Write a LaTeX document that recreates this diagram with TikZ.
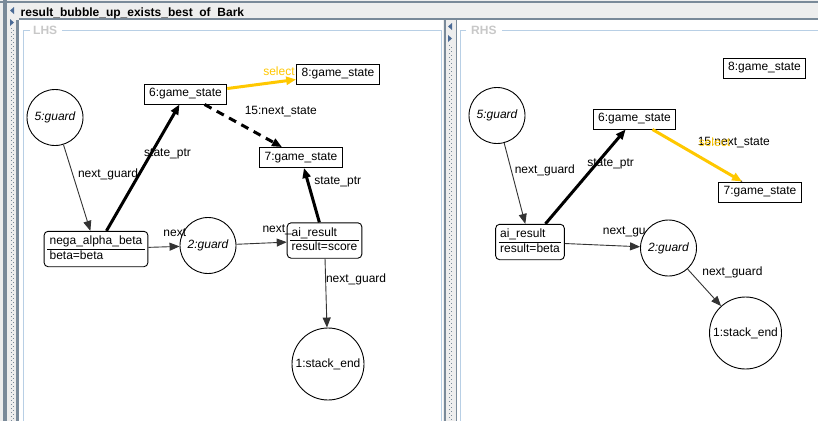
\documentclass[tikz,border=0pt]{standalone}
\usepackage{fontspec}
\setmainfont{Liberation Sans}
\usepackage{xcolor}
\usetikzlibrary{
    arrows.meta
}
\definecolor{swinggray}{HTML}{EEEEEE}
\definecolor{splitdark}{HTML}{7A8A99}
\definecolor{borderblue}{HTML}{B8CFE5}
\definecolor{titlegray}{HTML}{C8C8C8}
\definecolor{selectyellow}{HTML}{FFC800}
\definecolor{arrowblue}{HTML}{4A6A96}

\begin{document}
\begin{tikzpicture}[
    x=1pt, y=-1pt,
    font=\fontsize{12}{14}\selectfont,
    >={Triangle[length=10pt, width=8pt]},
    objbox/.style={draw, fill=white, line width=0.9pt, minimum height=20pt, inner xsep=5pt, inner ysep=0pt},
    attrbox/.style={draw, fill=white, rounded corners=4pt, line width=0.9pt, inner xsep=3pt, inner ysep=3.5pt},
    guardnode/.style={draw, fill=white, circle, minimum size=56pt, inner sep=0pt, line width=0.9pt, font=\fontsize{12}{14}\selectfont\itshape},
    endnode/.style={draw, fill=white, circle, minimum size=72pt, inner sep=0pt, line width=0.9pt},
    link/.style={->, draw=black!80, line width=0.9pt},
    ptr/.style={->, line width=3pt},
    sel/.style={->, draw=selectyellow, line width=3pt},
    lbl/.style={anchor=west, inner sep=0pt}
]
    \useasboundingbox (0, 0) rectangle (818, 421);
    \fill[swinggray] (0, 0) rectangle (818, 421);
    \fill[white] (19, 20) rectangle (443, 421);
    \fill[white] (457, 20) rectangle (818, 421);
    \fill[splitdark] (0, 0.5) rectangle (818, 2.5);
    \fill[splitdark] (19, 18) rectangle (818, 20);
    \fill[splitdark] (3, 0) rectangle (7, 421);
    \fill[splitdark] (16, 20) rectangle (19, 421);
    \fill[splitdark] (444, 20) rectangle (445.5, 421);
    \fill[splitdark] (455.5, 20) rectangle (457, 421);
    \draw[splitdark, line width=1pt, dash pattern=on 1pt off 3pt] (11.5, 28) -- (11.5, 421);
    \draw[splitdark, line width=1pt, dash pattern=on 1pt off 3pt] (13.5, 30) -- (13.5, 421);
    \draw[splitdark, line width=1pt, dash pattern=on 1pt off 3pt] (449.5, 45) -- (449.5, 421);
    \draw[splitdark, line width=1pt, dash pattern=on 1pt off 3pt] (451.5, 47) -- (451.5, 421);
    \fill[arrowblue] (14, 7) -- (10, 10.5) -- (14, 14) -- cycle;
    \fill[arrowblue] (10, 19) -- (14, 22.5) -- (10, 26) -- cycle;
    \fill[arrowblue] (452, 23) -- (448, 26.5) -- (452, 30) -- cycle;
    \fill[arrowblue] (448, 35) -- (452, 38.5) -- (448, 42) -- cycle;
    \node[anchor=base west, inner sep=0pt, font=\fontsize{12}{14}\selectfont\bfseries] (diagtitle) at (20.5, 16) {result\_bubble\_up\_exists\_best\ \ of\ \ Bark};
    \draw[borderblue] (30, 30) -- (23, 30) -- (23, 421);
    \draw[borderblue] (62, 30) -- (441, 30) -- (441, 421);
    \draw[borderblue] (466, 30) -- (460, 30) -- (460, 421);
    \draw[borderblue] (502, 30) -- (818, 30);
    \node[anchor=base west, inner sep=0pt, text=titlegray, font=\fontsize{12}{14}\selectfont\bfseries] (lhstitle) at (33, 34.5) {LHS};
    \node[anchor=base west, inner sep=0pt, text=titlegray, font=\fontsize{12}{14}\selectfont\bfseries] (rhstitle) at (471, 34.5) {RHS};

    \node[guardnode] (g5l) at (55, 117.5) {5:guard};
    \node[objbox] (s6l) at (185.5, 94) {6:game\_state};
    \node[objbox] (s8l) at (338, 74) {8:game\_state};
    \node[objbox] (s7l) at (301, 157.5) {7:game\_state};
    \node[attrbox] (nabl) at (96, 249) {\begin{tabular}{@{\hspace{2.5pt}}l@{\hspace{2.5pt}}}nega\_alpha\_beta\\\hline beta=beta\end{tabular}};
    \node[guardnode] (g2l) at (208, 245.5) {2:guard};
    \node[attrbox] (airl) at (324.5, 240.5) {\begin{tabular}{@{\hspace{1.5pt}}l@{\hspace{1.5pt}}}ai\_result\\\hline result=score\end{tabular}};
    \node[endnode] (endl) at (328, 364) {1:stack\_end};

    \node[guardnode] (g5r) at (497, 115.5) {5:guard};
    \node[objbox] (s8r) at (764.5, 68) {8:game\_state};
    \node[objbox] (s6r) at (634.5, 119) {6:game\_state};
    \node[objbox] (s7r) at (760, 192) {7:game\_state};
    \node[attrbox] (airr) at (530, 242) {\begin{tabular}{@{\hspace{1.5pt}}l@{\hspace{1.5pt}}}ai\_result\\\hline result=beta\end{tabular}};
    \node[guardnode] (g2r) at (668.5, 248) {2:guard};
    \node[endnode] (endr) at (745.5, 333) {1:stack\_end};

    \draw
    (g5l) edge[link] node[lbl, pos=0.34, xshift=5pt] {next\_guard} (nabl)
    (nabl) edge[link] node[lbl, pos=0.47, yshift=14pt] {next} (g2l)
    (g2l) edge[link] node[lbl, pos=0.51, yshift=13pt] {next\_} (airl)
    (airl) edge[link] node[lbl, pos=0.3] {next\_guard} (endl);
    \draw
    (nabl) edge[ptr] node[lbl, pos=0.606, xshift=-8pt] {state\_ptr} (s6l)
    (airl) edge[ptr] node[lbl, pos=0.745, xshift=5pt] {state\_ptr} (s7l)
    (s6l) edge[ptr, dash pattern=on 8pt off 6pt] node[lbl, pos=0.5, yshift=13.7pt] {15:next\_state} (s7l)
    (s6l) edge[sel] node[lbl, pos=0.5, yshift=13pt, text=selectyellow] {select} (s8l);

    \draw
    (g5r) edge[link] node[lbl, pos=0.34, xshift=3pt] {next\_guard} (airr)
    (airr) edge[link] node[lbl, pos=0.5, yshift=13pt] {next\_gu} (g2r)
    (g2r) edge[link] node[lbl, pos=0.1, xshift=11pt] {next\_guard} (endr);
    \draw
    (airr) edge[ptr] node[lbl, pos=0.64, xshift=-11pt] {state\_ptr} (s6r)
    (s6r) edge[draw=black!80, line width=1pt] node[lbl, pos=0.5, yshift=13.4pt] {15:next\_state} (s7r)
    (s6r) edge[sel] node[lbl, pos=0.5, yshift=13.4pt, text=selectyellow] {select} (s7r);
\end{tikzpicture}
\end{document}
